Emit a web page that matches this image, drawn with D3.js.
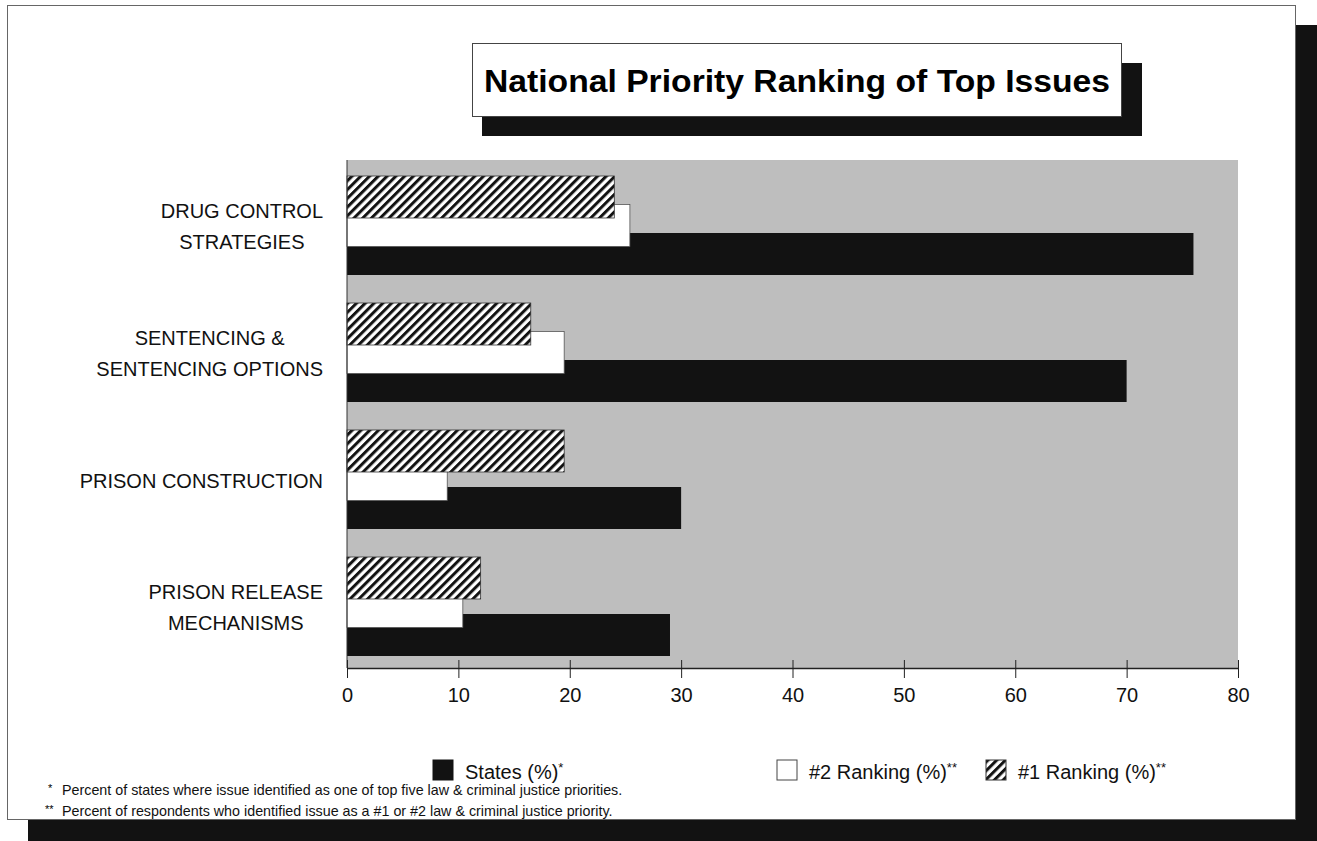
<!DOCTYPE html>
<html>
<head>
<meta charset="utf-8">
<script src="https://cdn.jsdelivr.net/npm/d3@7"></script>
<style>
  body { margin: 0; background: #fff; }
  svg { display: block; font-family: "Liberation Sans", Arial, Helvetica, sans-serif; }
</style>
</head>
<body>
<svg id="chart" width="1317" height="841"></svg>
<script>
// data
var categories = [["DRUG CONTROL", "STRATEGIES"], ["SENTENCING &", "SENTENCING OPTIONS"], ["PRISON CONSTRUCTION"], ["PRISON RELEASE", "MECHANISMS"]];
var states = [76, 70, 30, 29];
var rank2 = [25.4, 19.5, 9, 10.4];
var rank1 = [24, 16.5, 19.5, 12];
var xTicks = [0, 10, 20, 30, 40, 50, 60, 70, 80];
var seriesNames = ["#1 Ranking (%)", "#2 Ranking (%)", "States (%)"];
var title = "National Priority Ranking of Top Issues";
var footnotes = ["Percent of states where issue identified as one of top five law & criminal justice priorities.",
  "Percent of respondents who identified issue as a #1 or #2 law & criminal justice priority."];

var svg = d3.select('#chart');
var black = '#121212', gray = '#bebebe';

// hatch pattern for the #1 ranking bars
var defs = svg.append('defs');
defs.append('pattern').attr('id', 'hatch').attr('patternUnits', 'userSpaceOnUse')
  .attr('width', 6.2).attr('height', 6.2).attr('patternTransform', 'rotate(45)')
  .call(function (p) {
    p.append('rect').attr('width', 6.2).attr('height', 6.2).attr('fill', '#fff');
    p.append('rect').attr('width', 3).attr('height', 6.2).attr('fill', black);
  });

// page frame + drop shadow
svg.append('rect').attr('x', 28).attr('y', 25).attr('width', 1289).attr('height', 816).attr('fill', black);
svg.append('rect').attr('x', 7.5).attr('y', 5.5).attr('width', 1288).attr('height', 814)
  .attr('fill', '#fff').attr('stroke', '#666').attr('stroke-width', 1);

// title box
svg.append('rect').attr('x', 482).attr('y', 63).attr('width', 660).attr('height', 73).attr('fill', black);
svg.append('rect').attr('x', 472.5).attr('y', 43.5).attr('width', 649).attr('height', 73)
  .attr('fill', '#fff').attr('stroke', '#444').attr('stroke-width', 1);
svg.append('text').attr('x', 797).attr('y', 92).attr('text-anchor', 'middle')
  .attr('font-size', 31).attr('font-weight', 'bold').attr('fill', '#000')
  .attr('textLength', 626).attr('lengthAdjust', 'spacingAndGlyphs').text(title);

// scales
var margin = {left: 347, right: 1238, top: 160, bottom: 668};
var x = d3.scaleLinear().domain([0, 80]).range([margin.left, margin.right]);
var y = d3.scaleBand().domain(d3.range(categories.length)).range([margin.top, margin.bottom]);
var inner = d3.scalePoint().domain(seriesNames).range([16, 73]);
var barH = 42;

svg.append('rect').attr('x', margin.left).attr('y', margin.top)
  .attr('width', margin.right - margin.left).attr('height', margin.bottom - margin.top).attr('fill', gray);

// bars: states first, then #2, then hatched #1 on top
var series = [
  {name: seriesNames[2], values: states, fill: black, stroke: 'none'},
  {name: seriesNames[1], values: rank2, fill: '#fff', stroke: '#555'},
  {name: seriesNames[0], values: rank1, fill: 'url(#hatch)', stroke: '#333'}
];
series.forEach(function (s) {
  svg.append('g').selectAll('rect').data(s.values).join('rect')
    .attr('x', x(0))
    .attr('y', function (d, i) { return y(i) + inner(s.name); })
    .attr('width', function (d) { return x(d) - x(0); })
    .attr('height', barH)
    .attr('fill', s.fill).attr('stroke', s.stroke).attr('stroke-width', 0.8);
});

// left edge line
svg.append('line').attr('x1', x(0)).attr('x2', x(0)).attr('y1', margin.top).attr('y2', margin.bottom)
  .attr('stroke', '#333').attr('stroke-width', 1);

// x axis
var axis = svg.append('g').attr('transform', 'translate(0,' + margin.bottom + ')')
  .call(d3.axisBottom(x).tickValues(xTicks).tickSizeInner(10).tickSizeOuter(0).tickFormat(d3.format('d')));
axis.select('.domain').attr('stroke', '#222').attr('stroke-width', 1.5);
axis.selectAll('.tick line').attr('y1', -8).attr('stroke', '#222');
axis.selectAll('.tick text').attr('y', 27).attr('dy', '0.35em')
  .attr('font-size', 20).attr('font-family', '"Liberation Sans", Arial, sans-serif').attr('fill', '#111');

// category labels: lines centred on each other, longest line ends at x=323
var labels = svg.append('g').selectAll('text').data(categories).join('text')
  .attr('text-anchor', 'middle').attr('font-size', 20).attr('fill', '#111');
labels.selectAll('tspan').data(function (d) { return d; }).join('tspan')
  .attr('x', 0)
  .attr('y', function (d, j, nodes) { return (j - (nodes.length - 1) / 2) * 31; })
  .attr('dy', '0.35em')
  .text(function (d) { return d; });
labels.attr('transform', function (d, i) {
  var w = d3.max(d3.select(this).selectAll('tspan').nodes(), function (n) { return n.getComputedTextLength(); });
  return 'translate(' + (323 - w / 2) + ',' + (y(i) + y.bandwidth() / 2 + 3) + ')';
});

// legend
var legendItems = [
  {name: seriesNames[2], stars: '*', fill: black, stroke: black, x: 433},
  {name: seriesNames[1], stars: '**', fill: '#fff', stroke: '#444', x: 777},
  {name: seriesNames[0], stars: '**', fill: 'url(#hatch)', stroke: '#333', x: 986}
];
var lg = svg.append('g').selectAll('g').data(legendItems).join('g')
  .attr('transform', function (d) { return 'translate(' + d.x + ',760)'; });
lg.append('rect').attr('width', 20).attr('height', 20)
  .attr('fill', function (d) { return d.fill; }).attr('stroke', function (d) { return d.stroke; });
var lt = lg.append('text').attr('x', 32).attr('y', 19).attr('font-size', 20).attr('fill', '#111');
lt.append('tspan').text(function (d) { return d.name; });
lt.append('tspan').attr('dy', -7).attr('font-size', 13).text(function (d) { return d.stars; });

// footnotes
var fn = svg.append('g').selectAll('g').data(footnotes).join('g')
  .attr('transform', function (d, i) { return 'translate(0,' + (795 + i * 21) + ')'; });
fn.append('text').attr('x', function (d, i) { return i ? 45 : 48; }).attr('y', -3).attr('font-size', 11)
  .text(function (d, i) { return i ? '**' : '*'; });
fn.append('text').attr('x', 62).attr('font-size', 14.3).attr('fill', '#111').text(function (d) { return d; });
</script>
</body>
</html>
